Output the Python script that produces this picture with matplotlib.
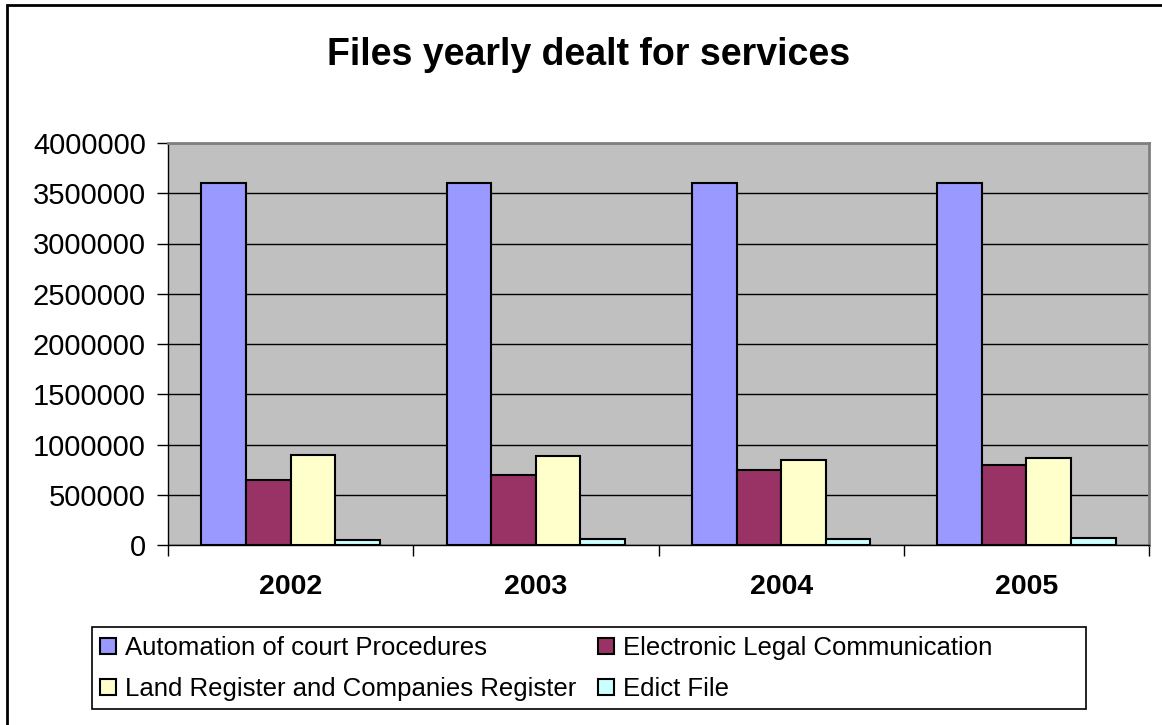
import numpy as np
import matplotlib.pyplot as plt
from matplotlib.patches import Rectangle

plt.rcParams['font.family'] = ['Liberation Sans', 'DejaVu Sans']

years = ['2002', '2003', '2004', '2005']
series = ['Automation of court Procedures', 'Electronic Legal Communication',
          'Land Register and Companies Register', 'Edict File']
automation = [3600000, 3600000, 3600000, 3600000]
electronic = [650000, 700000, 750000, 800000]
land_register = [900000, 890000, 850000, 870000]
edict = [45000, 60000, 60000, 70000]
colors = ['#9999FF', '#993366', '#FFFFCC', '#CCFFFF']

W, H = 1162, 725
fig = plt.figure(figsize=(W / 100, H / 100), dpi=100)

# outer chart border (only left/top edges fall inside the image)
fig.patches.append(Rectangle((7 / W, -0.1), 1.2, (H - 5) / H + 0.1,
                             transform=fig.transFigure, fill=False,
                             edgecolor='black', linewidth=2))

ax = fig.add_axes([168 / W, 1 - 545 / H, (1149 - 168) / W, (545 - 143) / H])
ax.set_facecolor('#C0C0C0')

x = np.arange(len(years))
width = 1 / 5.5
all_vals = [automation, electronic, land_register, edict]
bars = []
for i, (vals, c) in enumerate(zip(all_vals, colors)):
    b = ax.bar(x + (i - 1.5) * width, vals, width, color=c,
               edgecolor='black', linewidth=1.5, zorder=3)
    bars.append(b)

ax.set_xlim(-0.5, 3.5)
ax.set_ylim(0, 4000000)
ax.set_yticks(np.arange(0, 4000001, 500000))
ax.set_yticklabels([str(v) for v in range(0, 4000001, 500000)])
ax.yaxis.grid(True, color='black', linewidth=1, zorder=1)
ax.set_axisbelow(True)

ax.set_xticks([-0.5, 0.5, 1.5, 2.5, 3.5])
ax.set_xticklabels([])
ax.set_xticks(x, minor=True)
ax.set_xticklabels(years, minor=True, fontsize=20.5, fontweight='bold')
ax.tick_params(axis='x', which='minor', length=0, pad=21)
ax.tick_params(axis='x', which='major', direction='out', length=8, width=1)
ax.tick_params(axis='y', direction='out', length=8, width=1, labelsize=21, pad=8)

for side in ['left', 'bottom']:
    ax.spines[side].set_color('black')
    ax.spines[side].set_linewidth(1)
for side in ['top', 'right']:
    ax.spines[side].set_color('#808080')
    ax.spines[side].set_linewidth(2)

fig.text(589 / W, 1 - 65 / H, 'Files yearly dealt for services',
         ha='center', va='baseline', fontsize=27, fontweight='bold')

# legend frame drawn separately so its size is fixed
fig.patches.append(Rectangle((92 / W, 1 - 709 / H), (1086 - 92) / W, 82 / H,
                             transform=fig.transFigure, fill=False,
                             edgecolor='black', linewidth=1.2))
order = [0, 2, 1, 3]
leg = fig.legend([bars[i] for i in order], [series[i] for i in order],
                 loc='upper left', bbox_to_anchor=(100 / W, 1 - 636 / H),
                 ncol=2, fontsize=18.5, frameon=False,
                 handlelength=0.62, handleheight=0.62,
                 handletextpad=0.35, columnspacing=0.85, labelspacing=0.67,
                 borderpad=0, borderaxespad=0)

fig.savefig('out.png', dpi=100)
